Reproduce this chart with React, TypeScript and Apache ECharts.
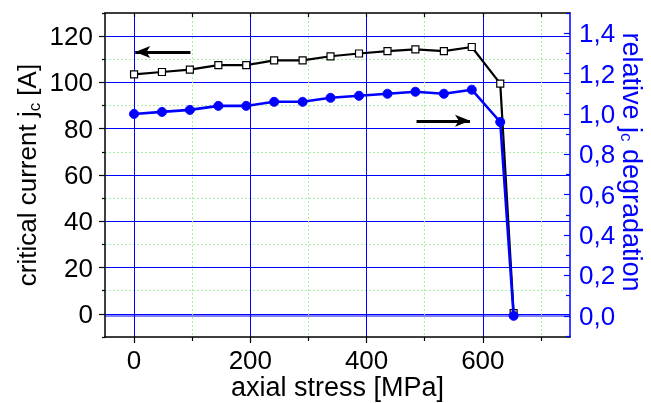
import React, { useEffect, useRef } from "react";
import * as echarts from "echarts";

const stress = [0, 48, 96, 145, 193, 241, 290, 338, 387, 436, 484, 533, 581, 630, 653];
const criticalCurrent = [103.5, 104.5, 105.5, 107.5, 107.5, 109.5, 109.5, 111.3, 112.5, 113.5, 114.3, 113.5, 115.3, 99.5, 0.3];
const relativeDegradation = [1.0, 1.01, 1.02, 1.04, 1.04, 1.06, 1.06, 1.08, 1.09, 1.1, 1.11, 1.1, 1.12, 0.96, 0.0];

const xMajor = [0, 200, 400, 600];
const xMinor = [100, 300, 500, 700];
const xTop = [0, 100, 200, 300, 400, 500, 600, 700];
const yLeftMajor = [0, 20, 40, 60, 80, 100, 120];
const yLeftMinor = [-10, 10, 30, 50, 70, 90, 110, 130];
const yRightMajor = [0, 0.2, 0.4, 0.6, 0.8, 1.0, 1.2, 1.4];
const yRightMinor = [-0.1, 0.1, 0.3, 0.5, 0.7, 0.9, 1.1, 1.3, 1.5];

// annotation arrows (in data units of x axis / left y axis)
const arrowLeft = [[97, 113.2], [2, 113.2]];
const arrowRight = [[486, 83.4], [578, 83.4]];

const FONT = "Liberation Sans, Arial, sans-serif";
const BLUE = "#0000ff";
const GREEN = "#a8f0a8";

export default function App() {
  const ref = useRef<HTMLDivElement>(null);
  useEffect(() => {
    if (!ref.current) return;
    const chart = echarts.init(ref.current, undefined, { renderer: "svg" });
    const xBase = { type: "value", min: -50, max: 750, gridIndex: 0 };
    const yLeftBase = { type: "value", min: -10, max: 130, position: "left" };
    const yRightBase = { type: "value", min: -0.105, max: 1.5, position: "right" };
    const option: any = {
      animation: false,
      grid: { left: 105, right: 81, top: 13, bottom: 66, containLabel: false, outerBoundsMode: "none" },
      xAxis: [
        {
          ...xBase,
          position: "bottom",
          axisLine: { show: true, onZero: false, lineStyle: { color: "#000", width: 1.5 } },
          axisTick: { show: true, customValues: xMajor, length: 6, inside: false, lineStyle: { color: "#000", width: 1.2 } },
          axisLabel: { customValues: xMajor, fontSize: 26, color: "#000", fontFamily: FONT, margin: 10 },
          splitLine: { show: true, lineStyle: { color: BLUE, width: 1 } },
          name: "axial stress [MPa]",
          nameLocation: "middle",
          nameMoveOverlap: false,
          nameGap: 37,
          nameTextStyle: { fontSize: 27, lineHeight: 26, color: "#000", fontFamily: FONT },
        },
        {
          ...xBase,
          position: "bottom",
          axisLine: { show: false, onZero: false },
          axisTick: { show: true, customValues: xMinor, length: 4, inside: false, lineStyle: { color: "#000", width: 1.2 } },
          axisLabel: { show: false },
          splitLine: { show: true, lineStyle: { color: GREEN, width: 1, type: [2, 2] } },
        },
        {
          ...xBase,
          position: "top",
          axisLine: { show: true, onZero: false, lineStyle: { color: "#000", width: 1.5 } },
          axisTick: { show: true, customValues: xTop, length: 4, inside: true, lineStyle: { color: "#000", width: 1.2 } },
          axisLabel: { show: false },
          splitLine: { show: false },
        },
      ],
      yAxis: [
        {
          ...yLeftBase,
          axisLine: { show: true, onZero: false, lineStyle: { color: "#000", width: 1.5 } },
          axisTick: { show: true, customValues: yLeftMajor, length: 6, inside: false, lineStyle: { color: "#000", width: 1.2 } },
          axisLabel: { customValues: yLeftMajor, fontSize: 26, color: "#000", fontFamily: FONT, margin: 12 },
          splitLine: { show: true, lineStyle: { color: BLUE, width: 1 } },
          name: "{a|critical current j}{b|c}{a| [A]}",
          nameLocation: "middle",
          nameMoveOverlap: false,
          nameRotate: 90,
          nameGap: 62,
          nameTextStyle: {
            color: "#000",
            fontFamily: FONT,
            rich: {
              a: { fontSize: 26, fontFamily: FONT, color: "#000", lineHeight: 32 },
              b: { fontSize: 17, fontFamily: FONT, color: "#000", lineHeight: 10, verticalAlign: "bottom" },
            },
          },
        },
        {
          ...yLeftBase,
          axisLine: { show: false, onZero: false },
          axisTick: { show: true, customValues: yLeftMinor, length: 3, inside: false, lineStyle: { color: "#000", width: 1.2 } },
          axisLabel: { show: false },
          splitLine: { show: true, lineStyle: { color: GREEN, width: 1, type: [2, 2] } },
        },
        {
          ...yRightBase,
          axisLine: { show: true, onZero: false, lineStyle: { color: BLUE, width: 1.5 } },
          axisTick: { show: true, customValues: yRightMajor, length: 6, inside: true, lineStyle: { color: BLUE, width: 1.2 } },
          axisLabel: {
            customValues: yRightMajor,
            fontSize: 26,
            color: BLUE,
            fontFamily: FONT,
            margin: 9,
            formatter: (v: number) => v.toFixed(1).replace(".", ","),
          },
          splitLine: { show: false },
          name: "{a|relative j}{b|c}{a| degradation}",
          nameLocation: "middle",
          nameMoveOverlap: false,
          nameRotate: -90,
          nameGap: 48,
          nameTextStyle: {
            color: BLUE,
            fontFamily: FONT,
            padding: [0, 26, 0, 0],
            rich: {
              a: { fontSize: 27, fontFamily: FONT, color: BLUE, lineHeight: 28 },
              b: { fontSize: 17, fontFamily: FONT, color: BLUE, lineHeight: 8, verticalAlign: "bottom" },
            },
          },
        },
        {
          ...yRightBase,
          axisLine: { show: false, onZero: false },
          axisTick: { show: true, customValues: yRightMinor, length: 4, inside: true, lineStyle: { color: BLUE, width: 1.2 } },
          axisLabel: { show: false },
          splitLine: { show: false },
        },
        {
          ...yRightBase,
          axisLine: { show: false, onZero: false },
          axisTick: { show: false, customValues: [0] },
          axisLabel: { show: false },
          splitLine: { show: true, lineStyle: { color: "#7f7fff", width: 2 } },
        },
      ],
      series: [
        {
          type: "line",
          name: "critical current",
          xAxisIndex: 0,
          yAxisIndex: 0,
          data: stress.map((s, i) => [s, criticalCurrent[i]]),
          symbol: "rect",
          symbolSize: 7,
          itemStyle: { color: "#fff", borderColor: "#000", borderWidth: 1.2 },
          lineStyle: { color: "#000", width: 2.2 },
          z: 3,
          markLine: {
            silent: true,
            symbol: ["none", "arrow"],
            symbolSize: [9, 15],
            label: { show: false },
            lineStyle: { color: "#000", width: 3, type: "solid" },
            data: [
              [{ coord: arrowLeft[0] }, { coord: arrowLeft[1] }],
              [{ coord: arrowRight[0] }, { coord: arrowRight[1] }],
            ],
          },
        },
        {
          type: "line",
          name: "relative degradation",
          xAxisIndex: 0,
          yAxisIndex: 2,
          data: stress.map((s, i) => [s, relativeDegradation[i]]),
          symbol: "circle",
          symbolSize: 9,
          itemStyle: { color: BLUE, borderColor: BLUE },
          lineStyle: { color: BLUE, width: 2.6 },
          z: 4,
        },
      ],
    };
    chart.setOption(option);
    return () => chart.dispose();
  }, []);
  return <div ref={ref} style={{ position: "fixed", left: 0, top: 0, width: 651, height: 403 }} />;
}
